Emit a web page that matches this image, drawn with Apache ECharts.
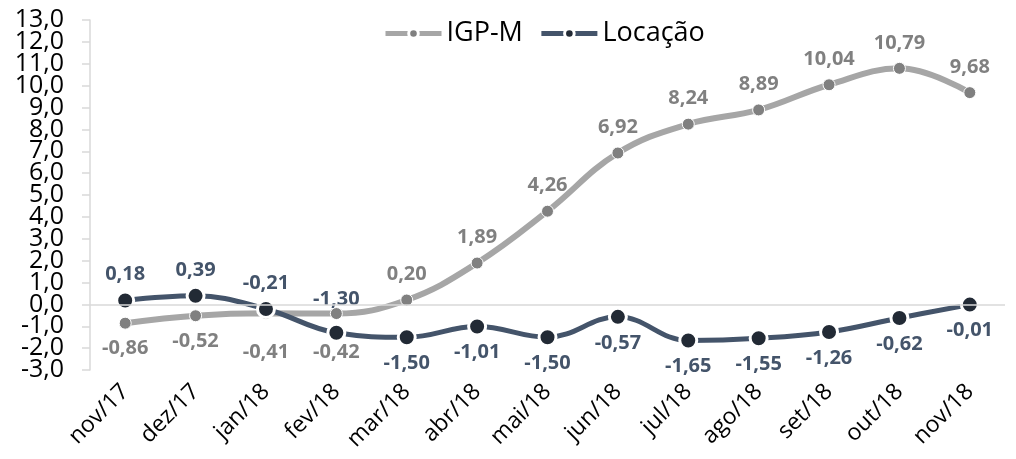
<!DOCTYPE html>
<html>
<head>
<meta charset="utf-8">
<script src="https://cdn.jsdelivr.net/npm/echarts@6/dist/echarts.min.js"></script>
<style>
  html, body { margin: 0; padding: 0; background: #fff; }
  #chart { width: 1016px; height: 459px; }
</style>
</head>
<body>
<div id="chart"></div>
<script>
const months = ['nov/17','dez/17','jan/18','fev/18','mar/18','abr/18','mai/18','jun/18','jul/18','ago/18','set/18','out/18','nov/18'];
const igpm = [-0.86, -0.52, -0.41, -0.42, 0.20, 1.89, 4.26, 6.92, 8.24, 8.89, 10.04, 10.79, 9.68];
const locacao = [0.18, 0.39, -0.21, -1.30, -1.50, -1.01, -1.50, -0.57, -1.65, -1.55, -1.26, -0.62, -0.01];

const fmt = (v) => v.toFixed(2).replace('.', ',');
const font = '"Open Sans", sans-serif';

const chart = echarts.init(document.getElementById('chart'));

// the tick labels are taller than the tick spacing, so even and odd labels
// go on two stacked axes to keep echarts from dropping any of them
const yLabel = (odd) => ({
  fontFamily: font, fontSize: 25, color: '#000', margin: 26,
  showMinLabel: true, showMaxLabel: true, hideOverlap: false,
  formatter: (v) => (Math.abs(v) % 2 === 1) === odd ? v.toFixed(1).replace('.', ',') : ''
});

chart.setOption({
  backgroundColor: '#fff',
  animation: false,
  legend: {
    top: 15,
    left: 378,
    itemWidth: 56,
    itemHeight: 12,
    itemGap: 16,
    lineStyle: { width: 5 },
    itemStyle: { borderColor: '#fff', borderWidth: 3 },
    textStyle: { fontFamily: font, fontSize: 27, color: '#000' }
  },
  grid: { left: 90, right: 11, top: 20, bottom: 89 },
  xAxis: {
    type: 'category',
    data: months,
    axisLine: { show: false },
    axisTick: { show: false },
    axisLabel: { rotate: 45, fontFamily: font, fontSize: 23, color: '#000', margin: 18, hideOverlap: false }
  },
  yAxis: [
    {
      type: 'value',
      min: -3, max: 13, interval: 1,
      axisLine: { show: true, lineStyle: { color: '#d9d9d9', width: 1.5 } },
      axisTick: { show: true, inside: false, length: 8, lineStyle: { color: '#d9d9d9', width: 1.5 } },
      splitLine: { show: false },
      axisLabel: yLabel(false)
    },
    {
      type: 'value',
      position: 'left',
      min: -3, max: 13, interval: 1,
      axisLine: { show: false },
      axisTick: { show: false },
      splitLine: { show: false },
      axisLabel: yLabel(true)
    }
  ],
  series: [
    {
      name: 'IGP-M',
      type: 'line',
      smooth: 0.4,
      data: igpm.map((v, i) => ({
        value: v,
        label: { position: i < 4 ? 'bottom' : 'top', distance: (i === 2 || i === 3) ? 22 : 9 }
      })),
      symbol: 'circle',
      symbolSize: 12,
      itemStyle: { color: '#808080', borderColor: '#fff', borderWidth: 1 },
      lineStyle: { color: '#a6a6a6', width: 6 },
      label: {
        show: true,
        fontFamily: font, fontSize: 20, fontWeight: 'bold', color: '#808080',
        formatter: (p) => fmt(p.value)
      },
      markLine: {
        silent: true, symbol: 'none', animation: false,
        label: { show: false },
        lineStyle: { color: '#d9d9d9', width: 1.5, type: 'solid' },
        data: [{ yAxis: 0 }]
      },
      z: 2
    },
    {
      name: 'Locação',
      type: 'line',
      smooth: 0.4,
      data: locacao.map((v, i) => ({
        value: v,
        label: { position: i < 4 ? 'top' : 'bottom', distance: i === 3 ? 14 : 6 }
      })),
      symbol: 'circle',
      symbolSize: 17,
      itemStyle: { color: '#222a35', borderColor: '#fff', borderWidth: 3 },
      lineStyle: { color: '#44546a', width: 5 },
      label: {
        show: true,
        fontFamily: font, fontSize: 20, fontWeight: 'bold', color: '#44546a',
        formatter: (p) => fmt(p.value)
      },
      z: 3
    }
  ]
});
</script>
</body>
</html>
